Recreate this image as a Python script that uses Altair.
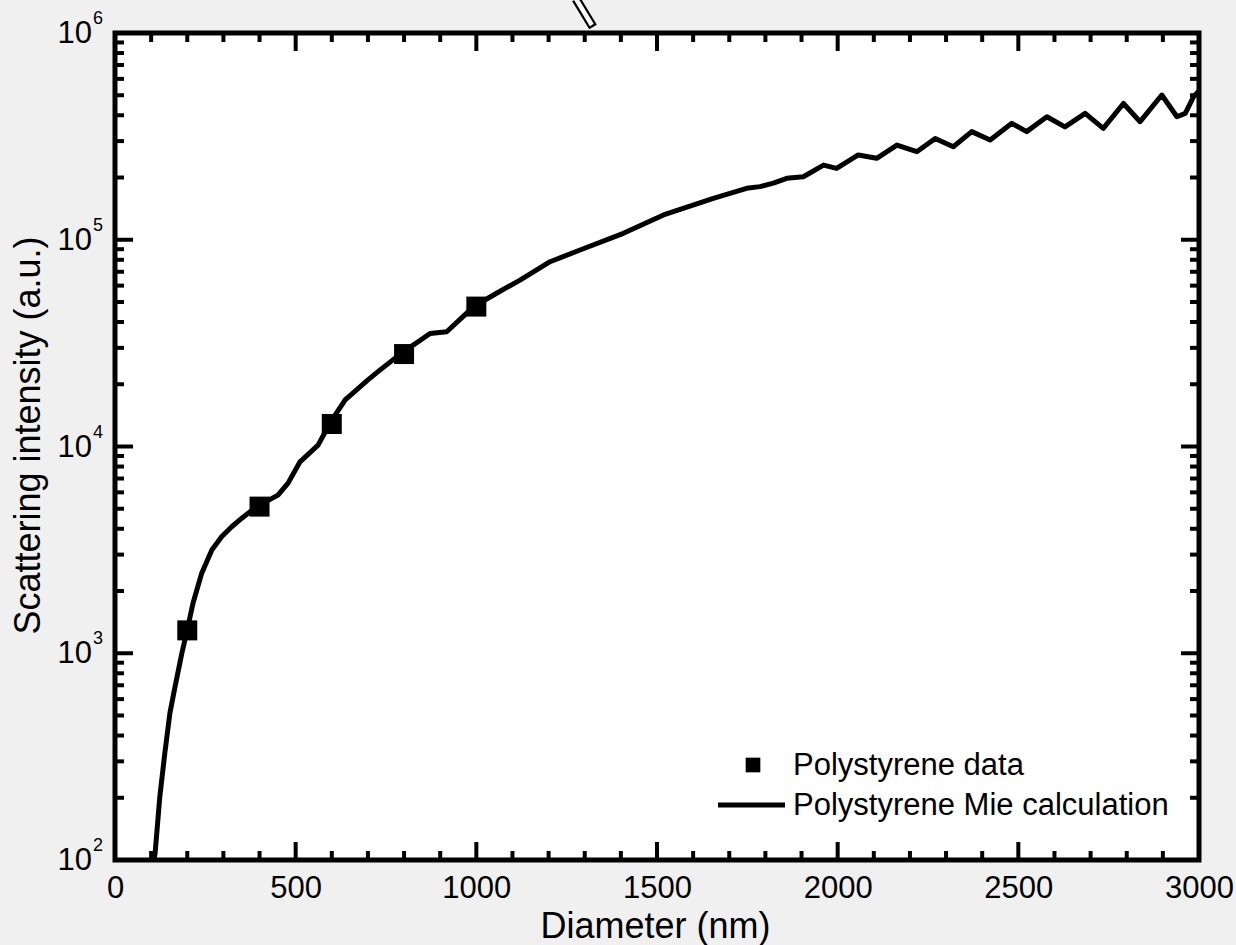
import altair as alt
import pandas as pd

# Measured scattering intensity of polystyrene spheres
data_diameter = [200, 400, 600, 800, 1000]
data_intensity = [1290, 5120, 12850, 28000, 47500]

# Mie calculation for polystyrene
mie_diameter = [108, 111, 124, 138, 152, 166, 185, 200, 216, 240, 268, 295, 323, 351,
                392, 451, 479, 512, 562, 595, 637, 700, 733, 793, 872, 918, 963, 992,
                1056, 1121, 1204, 1287, 1407, 1518, 1656, 1748, 1785, 1822, 1859, 1905,
                1961, 1997, 2057, 2108, 2164, 2219, 2270, 2320, 2371, 2422, 2482, 2523,
                2579, 2629, 2685, 2735, 2791, 2837, 2897, 2939, 2962, 2985, 3000]
mie_intensity = [100, 108, 202, 330, 514, 687, 1000, 1300, 1750, 2440, 3155, 3660, 4090, 4500,
                 5120, 5820, 6650, 8430, 10160, 13000, 16800, 21000, 23400, 28300, 35200, 35900, 42500, 47400,
                 55100, 63800, 78300, 89200, 107400, 131800, 158600, 177300, 180700, 188000, 198200, 201800,
                 229600, 221300, 257000, 247700, 287100, 266700, 309000, 281800, 333400, 303400, 365600, 333400,
                 393600, 351600, 408300, 345900, 456000, 372400, 501200, 393600, 408300, 492000, 525000]

legend_labels = ["Polystyrene data", "Polystyrene Mie calculation"]
x_title = "Diameter (nm)"
y_title = "Scattering intensity (a.u.)"

x_major = [0, 500, 1000, 1500, 2000, 2500, 3000]
x_minor = [d for d in range(100, 3000, 100) if d % 500]
y_exponents = [2, 3, 4, 5, 6]
y_major = [10 ** e for e in y_exponents]
y_minor = [m * 10 ** e for e in y_exponents[:-1] for m in range(2, 10)]

W, H = 1084, 827
FONT = "Liberation Sans"
MAJOR, MINOR = 18, 9

x_scale = alt.Scale(domain=[0, 3000], nice=False, zero=False)
y_scale = alt.Scale(type="log", domain=[100, 1e6], nice=False)

x_axis = alt.Axis(values=x_major, format="d", labelFont=FONT, labelFontSize=31,
                  labelColor="black", labelFlush=False, labelOverlap=False,
                  labelPadding=13, ticks=False, tickSize=0, domain=False, grid=False,
                  title=x_title, titleFont=FONT, titleFontSize=36, titleFontWeight="normal",
                  titleColor="black", titleX=W / 2 - 2, titleY=66, titleBaseline="middle",
                  titleAlign="center")
y_axis = alt.Axis(labels=False, ticks=False, tickSize=0, domain=False, grid=False,
                  title=y_title, titleFont=FONT, titleFontSize=36, titleFontWeight="normal",
                  titleColor="black", titleX=-87, titleY=402, titleAngle=-90,
                  titleBaseline="middle", titleAlign="center")


def X(field):
    return alt.X(field, scale=x_scale, axis=x_axis)


def Y(field):
    return alt.Y(field, scale=y_scale, axis=y_axis)


mie_df = pd.DataFrame({"diameter": mie_diameter, "intensity": mie_intensity})
pts_df = pd.DataFrame({"diameter": data_diameter, "intensity": data_intensity})

curve = alt.Chart(mie_df).mark_line(color="black", strokeWidth=5, strokeJoin="round",
                                    clip=True).encode(
    x=X("diameter:Q"), y=Y("intensity:Q"))

points = alt.Chart(pts_df).mark_square(color="black", size=400, opacity=1).encode(
    x=X("diameter:Q"), y=Y("intensity:Q"))


def x_ticks(values, length):
    df = pd.DataFrame({"diameter": values})
    bottom = alt.Chart(df).mark_rule(color="black", strokeWidth=4).encode(
        x=X("diameter:Q"), y=alt.value(H), y2=alt.value(H - length))
    top = alt.Chart(df).mark_rule(color="black", strokeWidth=4).encode(
        x=X("diameter:Q"), y=alt.value(0), y2=alt.value(length))
    return [bottom, top]


def y_ticks(values, length):
    df = pd.DataFrame({"intensity": values})
    left = alt.Chart(df).mark_rule(color="black", strokeWidth=4).encode(
        y=Y("intensity:Q"), x=alt.value(0), x2=alt.value(length))
    right = alt.Chart(df).mark_rule(color="black", strokeWidth=4).encode(
        y=Y("intensity:Q"), x=alt.value(W), x2=alt.value(W - length))
    return [left, right]


ticks = x_ticks(x_major, MAJOR) + x_ticks(x_minor, MINOR) + y_ticks(y_major, MAJOR) + y_ticks(y_minor, MINOR)

# power-of-ten labels on the log axis
exp_df = pd.DataFrame({"intensity": y_major, "base": ["10"] * len(y_major),
                       "exp": [str(e) for e in y_exponents]})
base_labels = alt.Chart(exp_df).mark_text(align="right", baseline="middle", font=FONT,
                                          fontSize=31, color="black", dy=1).encode(
    x=alt.value(-23), y=Y("intensity:Q"), text="base:N")
exp_labels = alt.Chart(exp_df).mark_text(align="left", baseline="middle", font=FONT,
                                         fontSize=18, color="black", dy=-14).encode(
    x=alt.value(-22), y=Y("intensity:Q"), text="exp:N")

# legend in the lower right corner
one = pd.DataFrame({"label": [legend_labels[0]]})
two = pd.DataFrame({"label": [legend_labels[1]]})
leg_square = alt.Chart(one).mark_square(color="black", size=215, opacity=1).encode(
    x=alt.value(638), y=alt.value(732))
leg_text1 = alt.Chart(one).mark_text(align="left", baseline="alphabetic", font=FONT,
                                     fontSize=31, color="black").encode(
    x=alt.value(678), y=alt.value(742), text="label:N")
leg_line = alt.Chart(two).mark_rule(color="black", strokeWidth=5).encode(
    x=alt.value(603), x2=alt.value(670), y=alt.value(772))
leg_text2 = alt.Chart(two).mark_text(align="left", baseline="alphabetic", font=FONT,
                                     fontSize=31, color="black").encode(
    x=alt.value(678), y=alt.value(782), text="label:N")

# slanted pointer poking in above the frame
pointer_outer = alt.Chart(one).mark_rule(color="black", strokeWidth=9).encode(
    x=alt.value(461), y=alt.value(-34), x2=alt.value(478), y2=alt.value(-6))
pointer_inner = alt.Chart(one).mark_rule(color="white", strokeWidth=4.5).encode(
    x=alt.value(460.5), y=alt.value(-35), x2=alt.value(476.8), y2=alt.value(-8))

chart = alt.layer(
    curve, *ticks, points, base_labels, exp_labels,
    leg_square, leg_text1, leg_line, leg_text2, pointer_outer, pointer_inner,
).properties(
    width=W, height=H,
    padding={"left": 115, "top": 33, "right": 37, "bottom": 85},
    autosize=alt.AutoSizeParams(type="none"),
    background="#f0f0f0",
).configure_view(stroke="black", strokeWidth=5, fill="white")

chart.save("out.html", embed_options={"renderer": "svg", "actions": False})
